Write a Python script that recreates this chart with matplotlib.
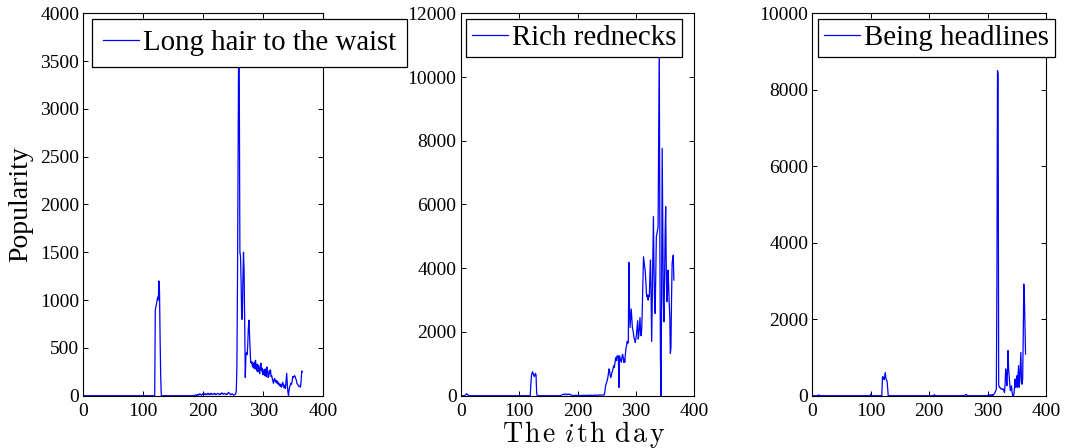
"""Popularity of three topics over one year (three panels)."""
import matplotlib
matplotlib.use('Agg')
import matplotlib.pyplot as plt
import numpy as np

plt.rcParams['font.family'] = 'serif'
plt.rcParams['font.serif'] = ['Liberation Serif', 'DejaVu Serif']
plt.rcParams['mathtext.fontset'] = 'cm'

# ─── Data (daily popularity, days 1..365) ─────────────────────────────────
N_DAYS = 365

# Long hair to the waist
hair_burst_start = 119
hair_burst = [0, 900, 930, 960, 1000, 1030, 1000, 1200, 1100, 600, 200, 0]
hair_quiet_start = 185
hair_quiet = [0, 5, 10, 5, 0, 10, 15, 5, 10, 20, 15, 10, 5, 15, 20, 10, 25, 15, 10, 20,
              15, 10, 20, 25, 15, 10, 20, 15, 25, 20, 10, 15, 20, 25, 15, 20, 10, 15, 20, 25,
              20, 15, 10, 20, 15, 25, 30, 20, 15, 20, 25, 20, 15, 10, 20, 15, 25, 35, 30, 20,
              15, 10, 15, 20, 15, 10, 5, 10, 15, 20]
hair_main_start = 255
hair_main = [50, 300, 1200, 2600, 3800, 3200, 1500, 1460, 1200, 800,
             800, 1200, 1500, 1300, 700, 190, 420, 450, 430, 520,
             700, 790, 650, 480, 350, 340,
             355, 300, 330, 290, 350, 280, 370, 300, 260, 330,
             250, 320, 280, 230, 300, 340, 260, 290, 220, 270,
             240, 210, 280, 220, 200, 300, 250, 190, 200, 260,
             230, 270, 200, 210, 180, 150, 130, 170, 180, 150,
             140, 160, 130, 150, 120, 130, 110, 100, 120, 90,
             95, 140, 130, 100, 80, 110, 77, 150, 234, 120,
             40, 0, 60, 95, 110, 130, 120, 150, 200, 190,
             200, 210, 200, 180, 164, 130, 120, 110, 100, 95,
             100, 90, 150, 258, 250]

# Rich rednecks
red_early_start = 8
red_early = [20, 40, 60, 50, 30, 10, 0]
red_burst_start = 119
red_burst = [0, 300, 600, 700, 750, 700, 650, 600, 650, 700, 650, 100, 0]
red_quiet_start = 170
red_quiet = [0, 5, 10, 20, 30, 40, 50, 45, 30, 50, 55, 40, 30, 45, 50, 40, 35, 50, 30, 20,
             10, 5, 10, 5, 0, 5, 10, 15, 5, 10, 5, 10, 15, 10, 5, 0, 5, 10, 5, 10,
             15, 10, 5, 10, 5, 15, 10, 5, 10, 15, 20, 10, 5, 10, 15, 10, 5, 10, 15, 10,
             20, 15, 10, 15, 20, 10, 15, 20, 25, 15, 20, 15, 20, 25, 20, 25]
red_main_start = 246
red_main = [30, 150, 300, 370, 420, 500, 575, 700, 840, 780, 640, 575, 650, 720,
            785, 870, 940, 880, 1000, 1150, 1200, 1100, 1250, 1200,
            1250, 260, 1250, 1150, 1100, 1050, 1200, 1300, 1250, 1050,
            1150, 1050, 1300, 1500, 1550, 1700, 1650, 1670, 4180, 2800,
            2140, 2450, 2720, 2400, 2140, 2050, 1930, 1800, 1750, 1670, 1800,
            1930, 2150, 2350, 1780, 1900, 2200, 2450, 2000, 1880, 2100, 2770,
            3600, 4360, 4200, 4050, 3900, 3600, 3200, 3100, 3160, 3000,
            3150, 3110, 3800, 4260, 3200, 1700, 3000, 4200, 5620, 4000,
            2900, 2580, 3800, 4990, 5100, 5200, 5300, 8000, 11000, 5000,
            1200, 0, 3000, 7760, 5500, 3000, 2320, 3500, 5000, 5930,
            4000, 2950, 3200, 3940, 3500, 2900, 2500, 1330, 1500, 3000,
            4150, 4300, 4410, 3630]

# Being headlines
head_blip_days = [10, 11, 12, 100, 208, 209, 210, 262, 263, 264, 265,
                  300, 302, 304, 306, 308, 310, 311]
head_blip_vals = [15, 20, 10, 40, 10, 25, 10, 20, 35, 25, 10,
                  10, 20, 25, 15, 30, 25, 40]
head_burst_start = 119
head_burst = [0, 480, 500, 450, 420, 500, 600, 450, 410, 380, 200, 0]
head_main_start = 312
head_main = [60, 100, 130, 175, 3000, 8500, 8400, 300, 220, 220,
             200, 175, 175, 180, 160, 175, 120, 87, 300, 700,
             500, 260, 600, 1180, 700, 480, 300, 130, 200, 260,
             100, 0, 10, 25, 200, 435, 220, 350, 520, 220,
             500, 785, 220, 400, 740, 1130, 350, 300, 435, 1500,
             2920, 2570, 1800, 1090]

labels = ['Long hair to the waist', 'Rich rednecks', 'Being headlines']
y_limits = [4000, 12000, 10000]
y_steps = [500, 2000, 2000]


def build(segments, blips=None):
    s = np.zeros(N_DAYS)
    for start, vals in segments:
        s[start - 1:start - 1 + len(vals)] = vals
    if blips:
        for d, v in zip(*blips):
            s[d - 1] = v
    return s


days = np.arange(1, N_DAYS + 1)
series = [
    build([(hair_burst_start, hair_burst), (hair_quiet_start, hair_quiet),
           (hair_main_start, hair_main)]),
    build([(red_early_start, red_early), (red_burst_start, red_burst),
           (red_quiet_start, red_quiet), (red_main_start, red_main)]),
    build([(head_burst_start, head_burst), (head_main_start, head_main)],
          (head_blip_days, head_blip_vals)),
]

# ─── Figure ───────────────────────────────────────────────────────────────
W, H = 1065, 448
fig = plt.figure(figsize=(W / 100, H / 100), dpi=100)
fig.patch.set_facecolor('white')

boxes = [(83.3, 323.3), (460.7, 694.3), (812.3, 1046.0)]
top_px, bot_px = 13.3, 395.7
leg_x = [0.036, 0.023, 0.024]
leg_pad = [0.38, 0.2, 0.2]

for i, (l, r) in enumerate(boxes):
    ax = fig.add_axes([l / W, (H - bot_px) / H, (r - l) / W, (bot_px - top_px) / H])
    ax.plot(days, series[i], color='#0000ff', lw=0.9, label=labels[i])
    ax.set_xlim(0, 400)
    ax.set_ylim(0, y_limits[i])
    ax.set_xticks(np.arange(0, 401, 100))
    ax.set_yticks(np.arange(0, y_limits[i] + 1, y_steps[i]))
    ax.tick_params(direction='in', length=3.5, width=0.7, labelsize=14,
                   top=True, right=True, pad=3)
    ax.tick_params(axis='x', pad=5)
    for sp in ax.spines.values():
        sp.set_linewidth(0.8)
    leg = ax.legend(loc='upper left', bbox_to_anchor=(leg_x[i], 0.985),
                    borderaxespad=0, fontsize=20.8, fancybox=False,
                    framealpha=1, edgecolor='black', handlelength=1.25,
                    handletextpad=0.15, borderpad=leg_pad[i])
    leg.get_frame().set_linewidth(0.9)
    leg.set_zorder(5)

# axis labels
fig.text(21 / W, 1 - 204 / H, 'Popularity', rotation=90, fontsize=20,
         ha='center', va='center')
fig.text(584 / W, 1 - 442 / H,
         r'$\mathrm{T\hspace{0.1}h\hspace{0.1}e}\hspace{0.4}i\hspace{0.1}'
         r'\mathrm{t\hspace{0.1}h}\hspace{0.4}\mathrm{d\hspace{0.1}a\hspace{0.1}y}$',
         fontsize=20, ha='center', va='baseline')

plt.savefig('out.png', dpi=100, facecolor='white')
